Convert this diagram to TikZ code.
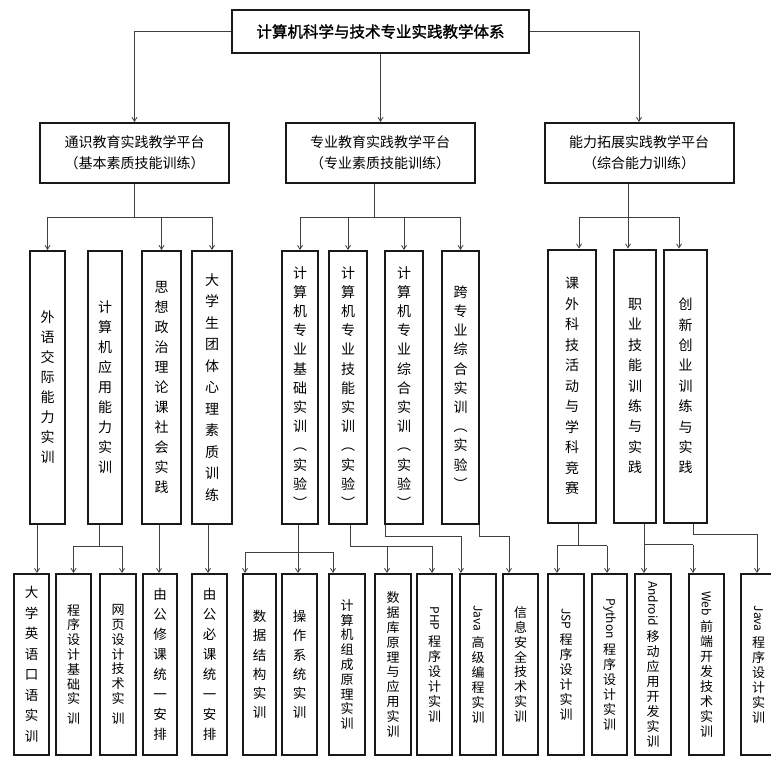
\documentclass[tikz,border=0pt]{standalone}
\usepackage{graphicx}
\usepackage{fontspec}
\setmainfont{Noto Sans CJK SC}
\newfontfamily\titlefont[FakeBold=1.5]{Noto Sans CJK SC}
\usetikzlibrary{arrows.meta,calc}
\newcommand\rotword[1]{\rotatebox{-90}{\fontsize{12}{12}\selectfont #1}}
\tikzset{
  box/.style={draw=black!90, line width=2pt, inner sep=0pt, align=center, fill=white},
  lthree/.style={box, minimum height=273pt, font=\fontsize{14}{20}\selectfont},
  lfour/.style={box, minimum height=181pt},
  conn/.style={draw=black!75, line width=0.8pt},
  arr/.style={conn, -{Straight Barb[length=4pt,width=5pt]}},
  tight/.style={font=\fontsize{13}{14.8}\selectfont},
  loose/.style={font=\fontsize{13.5}{20.5}\selectfont},
  mid/.style={font=\fontsize{13.5}{19.2}\selectfont},
  lat/.style={font=\fontsize{13}{15}\selectfont}
}
\begin{document}
\begin{tikzpicture}[x=1pt,y=-1pt]
\useasboundingbox[fill=white] (0,0) rectangle (771,758);

% level 1
\node[box, minimum width=297pt, minimum height=43pt, font=\titlefont\fontsize{15.5}{18}\selectfont] (T) at (380.5,31.5) {计算机科学与技术专业实践教学体系};

% level 2
\tikzset{ltwo/.style={box, minimum width=189pt, minimum height=60pt, font=\fontsize{14}{21}\selectfont}}
\node[ltwo] (P1) at (134.5,153) {通识教育实践教学平台\\（基本素质技能训练）};
\node[ltwo] (P2) at (380,153) {专业教育实践教学平台\\（专业素质技能训练）};
\node[ltwo] (P3) at (639,153) {能力拓展实践教学平台\\（综合能力训练）};

% level 3
\node[lthree, minimum width=35pt] (A) at (47.5,387.5) {外\\语\\交\\际\\能\\力\\实\\训};
\node[lthree, minimum width=34pt] (B) at (105,387.5) {计\\算\\机\\应\\用\\能\\力\\实\\训};
\node[lthree, minimum width=39pt] (C) at (161.5,387.5) {思\\想\\政\\治\\理\\论\\课\\社\\会\\实\\践};
\node[lthree, minimum width=40pt, font=\fontsize{14}{21.5}\selectfont] (D) at (212,387.5) {大\\学\\生\\团\\体\\心\\理\\素\\质\\训\\练};
\node[lthree, minimum width=36pt, font=\fontsize{14}{19.2}\selectfont] (E) at (300,387.5) {计\\算\\机\\专\\业\\基\\础\\实\\训\\︵\\实\\验\\︶};
\node[lthree, minimum width=38pt, font=\fontsize{14}{19.2}\selectfont] (F) at (348,387.5) {计\\算\\机\\专\\业\\技\\能\\实\\训\\︵\\实\\验\\︶};
\node[lthree, minimum width=38pt, font=\fontsize{14}{19.2}\selectfont] (G) at (404,387.5) {计\\算\\机\\专\\业\\综\\合\\实\\训\\︵\\实\\验\\︶};
\node[lthree, minimum width=37pt, font=\fontsize{14}{19.2}\selectfont] (H) at (460.5,387.5) {跨\\专\\业\\综\\合\\实\\训\\︵\\实\\验\\︶};
\node[lthree, minimum width=48pt, font=\fontsize{14}{20.5}\selectfont] (I) at (572,386) {课\\外\\科\\技\\活\\动\\与\\学\\科\\竞\\赛};
\node[lthree, minimum width=42pt, font=\fontsize{14}{20.4}\selectfont] (J) at (635,386) {职\\业\\技\\能\\训\\练\\与\\实\\践};
\node[lthree, minimum width=43pt, font=\fontsize{14}{20.4}\selectfont] (K) at (685.5,386) {创\\新\\创\\业\\训\\练\\与\\实\\践};

% level 4
\node[lfour, loose, minimum width=35pt] (L1) at (31.5,664.5) {大\\学\\英\\语\\口\\语\\实\\训};
\node[lfour, tight, minimum width=35pt] (L2) at (73.5,664.5) {程\\序\\设\\计\\基\\础\\实\\[5pt]训};
\node[lfour, tight, minimum width=36pt] (L3) at (118,664.5) {网\\页\\设\\计\\技\\术\\实\\[5pt]训};
\node[lfour, font=\fontsize{13.5}{20}\selectfont, minimum width=34pt] (L4) at (160,664.5) {由\\公\\修\\课\\统\\一\\安\\排};
\node[lfour, font=\fontsize{13.5}{20}\selectfont, minimum width=35pt] (L5) at (209.5,664.5) {由\\公\\必\\课\\统\\一\\安\\排};
\node[lfour, mid, minimum width=33pt] (L6) at (259.5,664.5) {数\\据\\结\\构\\实\\训};
\node[lfour, mid, minimum width=35pt] (L7) at (299.5,664.5) {操\\作\\系\\统\\实\\训};
\node[lfour, tight, minimum width=36pt] (L8) at (347,664.5) {计\\算\\机\\组\\成\\原\\理\\实\\训};
\node[lfour, tight, minimum width=36pt] (L9) at (393,664.5) {数\\据\\库\\原\\理\\与\\应\\用\\实\\训};
\node[lfour, lat, minimum width=35pt] (L10) at (434.5,664.5) {\rotword{PHP}\\[4pt]程\\序\\设\\计\\实\\训};
\node[lfour, lat, minimum width=36pt] (L11) at (478,664.5) {\rotword{Java}\\[4pt]高\\级\\编\\程\\实\\训};
\node[lfour, tight, minimum width=35pt] (L12) at (520.5,664.5) {信\\息\\安\\全\\技\\术\\实\\训};
\node[lfour, lat, minimum width=36pt] (L13) at (566,664.5) {\rotword{JSP}\\[4pt]程\\序\\设\\计\\实\\训};
\node[lfour, lat, minimum width=35pt] (L14) at (609.5,664.5) {\rotword{Python}\\[4pt]程\\序\\设\\计\\实\\训};
\node[lfour, lat, minimum width=36pt] (L15) at (653,664.5) {\rotword{Android}\\[4pt]移\\动\\应\\用\\开\\发\\实\\训};
\node[lfour, lat, minimum width=35pt] (L16) at (706.5,664.5) {\rotword{Web}\\[4pt]前\\端\\开\\发\\技\\术\\实\\训};
\node[lfour, lat, minimum width=35pt] (L17) at (758.5,664.5) {\rotword{Java}\\[4pt]程\\序\\设\\计\\实\\训};

% level 1 -> 2
\draw[arr] (T.west) -| (P1.north);
\draw[arr] (T.south) -- (T.south |- P2.north);
\draw[arr] (T.east) -| (P3.north);

% level 2 -> 3
\draw[conn] (P1.south) -- ++(0,33) coordinate (j1);
\draw[conn] (j1 -| A.north) -- (j1 -| D.north);
\foreach \n in {A,C,D} \draw[arr] (j1 -| \n.north) -- (\n.north);

\draw[conn] ([xshift=-6pt]P2.south) -- ++(0,33) coordinate (j2);
\draw[conn] (j2 -| E.north) -- (j2 -| H.north);
\foreach \n in {E,F,G,H} \draw[arr] (j2 -| \n.north) -- (\n.north);

\coordinate (tI) at ($(I.north)+(7,0)$);
\coordinate (tJ) at ($(J.north)+(-7,0)$);
\coordinate (tK) at ($(K.north)+(-6.5,0)$);
\draw[conn] ([xshift=-11pt]P3.south) -- ++(0,33) coordinate (j3);
\draw[conn] (j3 -| tI) -- (j3 -| tK);
\foreach \n in {tI,tJ,tK} \draw[arr] (j3 -| \n) -- (\n);

% level 3 -> 4
\draw[arr] ([xshift=-10.5pt]A.south) -- ([xshift=-10.5pt]A.south |- L1.north);

\draw[conn] ([xshift=-6pt]B.south) -- ++(0,21) coordinate (jB);
\coordinate (tL3) at ($(L3.north)+(4,0)$);
\draw[conn] (jB -| L2.north) -- (jB -| tL3);
\draw[arr] (jB -| L2.north) -- (L2.north);
\draw[arr] (jB -| tL3) -- (tL3);

\draw[arr] ([xshift=-2.5pt]C.south) -- ([xshift=-2.5pt]C.south |- L4.north);
\draw[arr] ([xshift=-4pt]D.south) -- ([xshift=-4pt]D.south |- L5.north);

\coordinate (tL6) at ($(L6.north west)+(3,0)$);
\coordinate (tL8) at ($(L8.north west)+(5,0)$);
\draw[conn] ([xshift=-2pt]E.south) -- ++(0,27) coordinate (jE);
\draw[conn] (jE -| tL6) -- (jE -| tL8);
\draw[arr] (jE -| tL6) -- (tL6);
\draw[arr] (jE) -- (jE |- L7.north);
\draw[arr] (jE -| tL8) -- (tL8);

\coordinate (tL9) at ($(L9.north)+(-6,0)$);
\coordinate (tL10) at ($(L10.north)+(-2.5,0)$);
\draw[conn] ([xshift=2pt]F.south) -- ++(0,21) coordinate (jF);
\draw[conn] (jF) -- (jF -| tL10);
\draw[arr] (jF -| tL9) -- (tL9);
\draw[arr] (jF -| tL10) -- (tL10);

\coordinate (tL11) at ($(L11.north west)+(2,0)$);
\draw[arr] ([xshift=-19pt]G.south) -- ++(0,11) -| (tL11);

\coordinate (tL12) at ($(L12.north west)+(7,0)$);
\draw[arr] ([xshift=18.5pt]H.south) -- ++(0,11) -| (tL12);

\coordinate (tL13) at ($(L13.north)+(-9,0)$);
\coordinate (tL14) at ($(L14.north)+(-2.5,0)$);
\draw[conn] ([xshift=6pt]I.south) -- ++(0,22) coordinate (jI);
\draw[conn] (jI -| tL13) -- (jI -| tL14);
\draw[arr] (jI -| tL13) -- (tL13);
\draw[arr] (jI -| tL14) -- (tL14);

\coordinate (tL15) at ($(L15.north)+(-9,0)$);
\coordinate (tL16) at ($(L16.north)+(-13.5,0)$);
\draw[conn] ([xshift=9pt]J.south) -- ++(0,21) coordinate (jJ);
\draw[conn] (jJ) -- (jJ -| tL16);
\draw[arr] (jJ) -- (tL15);
\draw[arr] (jJ -| tL16) -- (tL16);

\coordinate (tL17) at ($(L17.north)+(-1.5,0)$);
\draw[arr] ([xshift=7.5pt]K.south) -- ++(0,11) -| (tL17);
\end{tikzpicture}
\end{document}
